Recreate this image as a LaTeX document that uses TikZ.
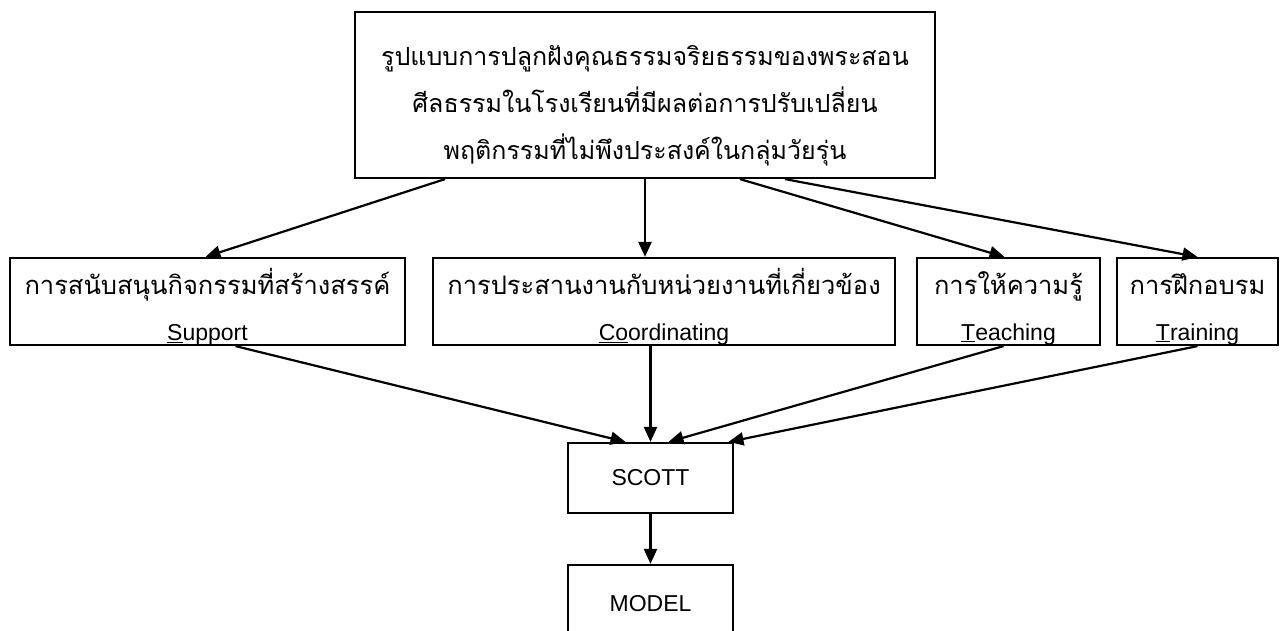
\documentclass[tikz,border=0pt]{standalone}
\usepackage{fontspec}
\setmainfont{Liberation Sans}
\newfontfamily\thaifont[Script=Thai]{Loma}
\usetikzlibrary{arrows.meta,calc}

\newcommand{\lift}[1]{\rule{0pt}{#1}}

\begin{document}
\begin{tikzpicture}[
    x = 1pt,
    y = -1pt,
    line width = 2.2pt,
    >={Triangle[length=15pt,width=13pt]},
    box/.style = {
      draw,
      rectangle,
      align = center,
      inner sep = 0pt
    },
    topbox/.style = {
      box,
      minimum width = 580pt,
      minimum height = 166pt,
      font = \thaifont\fontsize{25}{47}\selectfont
    },
    midbox/.style = {
      box,
      minimum height = 87pt,
      font = \fontsize{23}{46}\selectfont
    },
    endbox/.style = {
      box,
      minimum width = 165pt,
      font = \fontsize{23}{27}\selectfont
    }
  ]
  \useasboundingbox (0,0) rectangle (1285,630);

  \node[topbox] (aim) at (645,95)
    {\lift{42pt}รูปแบบการปลูกฝังคุณธรรมจริยธรรมของพระสอน\\
     ศีลธรรมในโรงเรียนที่มีผลต่อการปรับเปลี่ยน\\
     พฤติกรรมที่ไม่พึงประสงค์ในกลุ่มวัยรุ่น};

  \node[midbox, minimum width = 395pt] (sup) at (207.5,301.5)
    {{\thaifont\fontsize{25.5}{46}\selectfont\lift{36pt}การสนับสนุนกิจกรรมที่สร้างสรรค์}\\\underline{S}upport};
  \node[midbox, minimum width = 462pt] (coord) at (664,301.5)
    {{\thaifont\fontsize{25.5}{46}\selectfont\lift{36pt}การประสานงานกับหน่วยงานที่เกี่ยวข้อง}\\\underline{Co}ordinating};
  \node[midbox, minimum width = 183pt] (teach) at (1008.5,301.5)
    {{\thaifont\fontsize{25.5}{46}\selectfont\lift{36pt}การให้ความรู้}\\\underline{T}eaching};
  \node[midbox, minimum width = 161pt] (train) at (1197.5,301.5)
    {{\thaifont\fontsize{25.5}{46}\selectfont\lift{36pt}การฝึกอบรม}\\\underline{T}raining};

  \node[endbox, minimum height = 70pt] (scott) at (650.5,478) {SCOTT};
  \node[endbox, minimum height = 78pt] (model) at (650.5,604) {MODEL};

  % from the model down to the four parts
  \draw[->] ([xshift=-200pt]aim.south) -- ([xshift=-2pt]sup.north);
  \draw[->] (aim.south) -- (aim.south |- coord.north);
  \draw[->] ([xshift=95pt]aim.south) -- ([xshift=-4pt]teach.north);
  \draw[->] ([xshift=140pt]aim.south) -- (train.north);

  % the parts into SCOTT
  \draw[->] ([xshift=28pt]sup.south) -- ([xshift=-25pt]scott.north);
  \draw[->] (scott.north |- coord.south) -- (scott.north);
  \draw[->] ([xshift=-5pt]teach.south) -- ([xshift=18pt]scott.north);
  \draw[->] (train.south) -- ([xshift=78pt]scott.north);

  \draw[->] (scott) -- (model);

\end{tikzpicture}
\end{document}
